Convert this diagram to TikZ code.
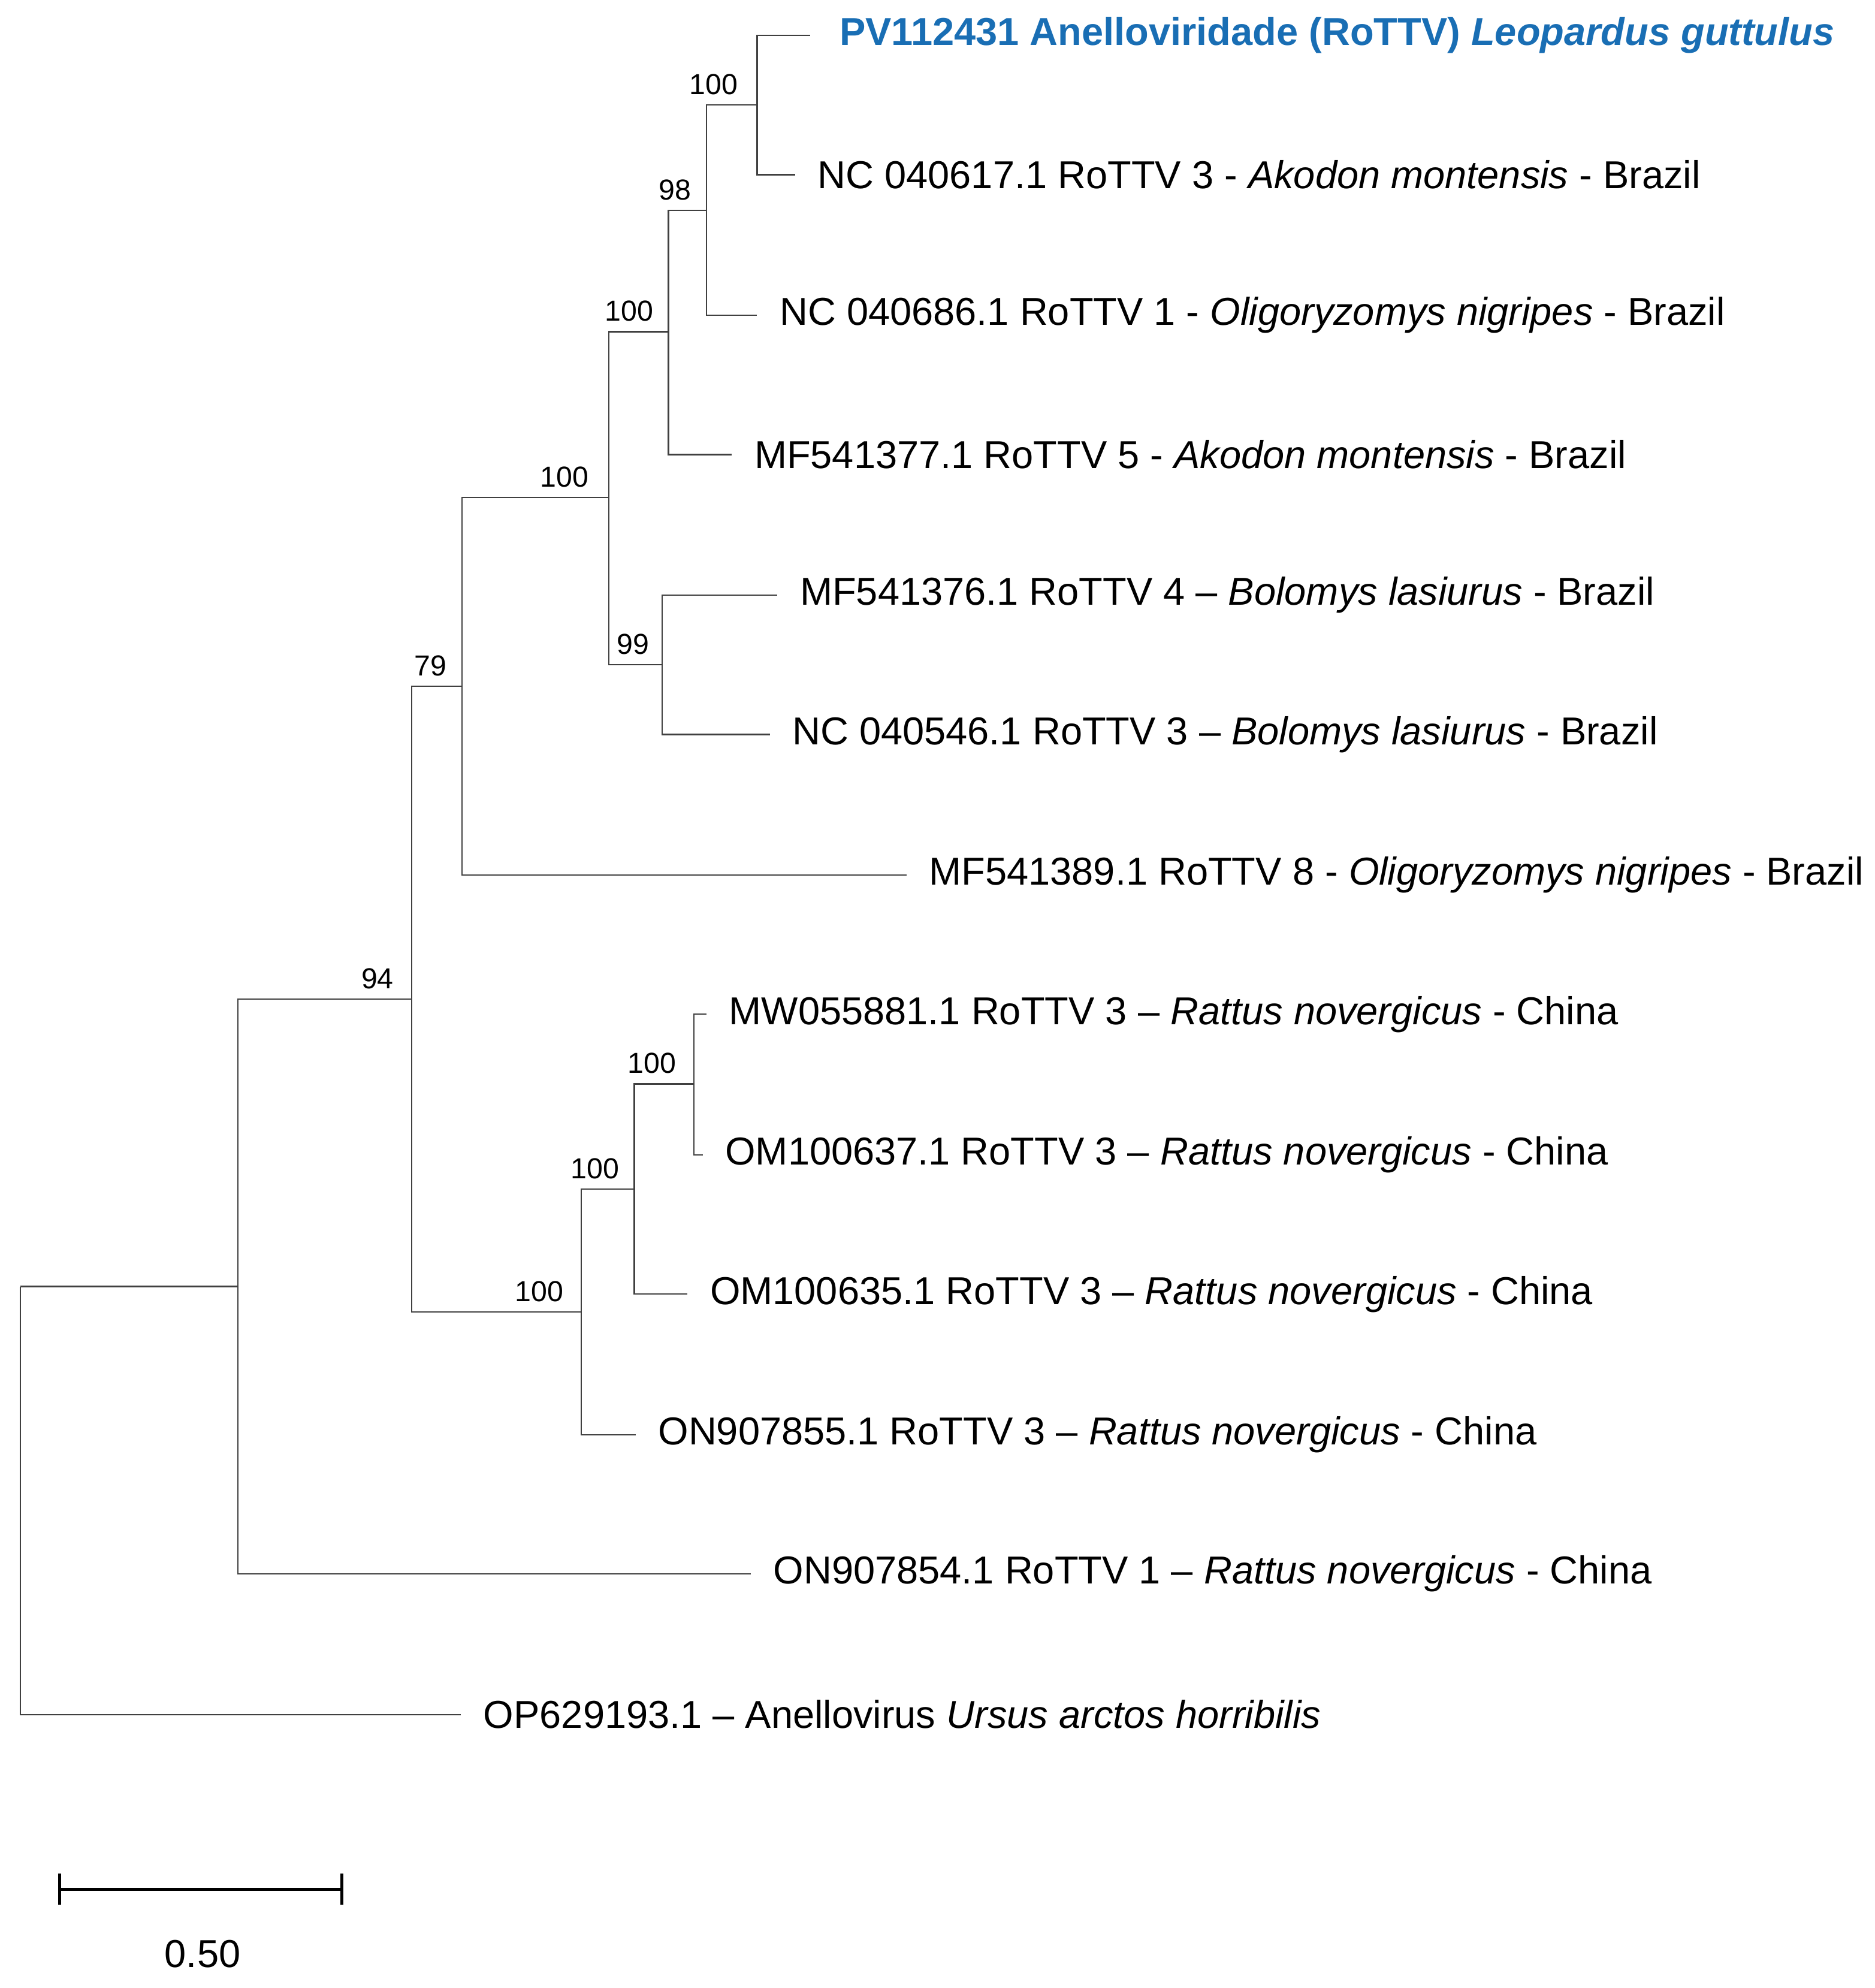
\documentclass[tikz,border=0pt]{standalone}
\usepackage{fontspec}
\setmainfont{Liberation Sans}
\definecolor{tipblue}{RGB}{25,110,180}
\begin{document}
\begin{tikzpicture}[x=0.02cm,y=-0.02cm,
  br/.style={line width=0.6pt,black!75},
  tip/.style={anchor=west,inner sep=0pt,font=\fontsize{17.5}{20}\selectfont},
  bs/.style={anchor=south east,inner sep=1pt,font=\fontsize{13}{15}\selectfont}]
\useasboundingbox (0,0) rectangle (1481,1570);
% internal nodes
\coordinate (r) at (16,1016);
\coordinate (n188) at (188,1016);
\coordinate (n325) at (325,789);
\coordinate (n365) at (365,542);
\coordinate (n481) at (481,393);
\coordinate (n528) at (528,262);
\coordinate (n558) at (558,166);
\coordinate (n598) at (598,83);
\coordinate (n523) at (523,525);
\coordinate (n459) at (459,1036);
\coordinate (n501) at (501,939);
\coordinate (n548) at (548,856);
% tips
\coordinate (t1) at (640,28);
\coordinate (t2) at (628,138);
\coordinate (t3) at (598,249);
\coordinate (t4) at (578,359);
\coordinate (t5) at (614,470);
\coordinate (t6) at (608,580);
\coordinate (t7) at (716,691);
\coordinate (t8) at (558,801);
\coordinate (t9) at (555,912);
\coordinate (t10) at (543,1022);
\coordinate (t11) at (502,1133);
\coordinate (t12) at (593,1243);
\coordinate (t13) at (364,1354);
\newcommand{\elbow}[2]{\draw[br] (#1) |- (#2);}
\elbow{r}{n188}\elbow{r}{t13}
\elbow{n188}{n325}\elbow{n188}{t12}
\elbow{n325}{n365}\elbow{n325}{n459}
\elbow{n365}{n481}\elbow{n365}{t7}
\elbow{n481}{n528}\elbow{n481}{n523}
\elbow{n528}{n558}\elbow{n528}{t4}
\elbow{n558}{n598}\elbow{n558}{t3}
\elbow{n598}{t1}\elbow{n598}{t2}
\elbow{n523}{t5}\elbow{n523}{t6}
\elbow{n459}{n501}\elbow{n459}{t11}
\elbow{n501}{n548}\elbow{n501}{t10}
\elbow{n548}{t8}\elbow{n548}{t9}
% labels
\node[tip,text=tipblue,font=\fontsize{17.5}{20}\selectfont\bfseries] (l1) at ([xshift=13]t1) {PV112431 Anelloviridade (RoTTV) \textit{Leopardus guttulus}};
\node[tip] (l2) at ([xshift=10]t2) {NC 040617.1 RoTTV 3 - \textit{Akodon montensis} - Brazil};
\node[tip] (l3) at ([xshift=10]t3) {NC 040686.1 RoTTV 1 - \textit{Oligoryzomys nigripes} - Brazil};
\node[tip] (l4) at ([xshift=10]t4) {MF541377.1 RoTTV 5 - \textit{Akodon montensis} - Brazil};
\node[tip] (l5) at ([xshift=10]t5) {MF541376.1 RoTTV 4 -- \textit{Bolomys lasiurus} - Brazil};
\node[tip] (l6) at ([xshift=10]t6) {NC 040546.1 RoTTV 3 -- \textit{Bolomys lasiurus} - Brazil};
\node[tip] (l7) at ([xshift=10]t7) {MF541389.1 RoTTV 8 - \textit{Oligoryzomys nigripes} - Brazil};
\node[tip] (l8) at ([xshift=10]t8) {MW055881.1 RoTTV 3 -- \textit{Rattus novergicus} - China};
\node[tip] (l9) at ([xshift=10]t9) {OM100637.1 RoTTV 3 -- \textit{Rattus novergicus} - China};
\node[tip] (l10) at ([xshift=10]t10) {OM100635.1 RoTTV 3 -- \textit{Rattus novergicus} - China};
\node[tip] (l11) at ([xshift=10]t11) {ON907855.1 RoTTV 3 -- \textit{Rattus novergicus} - China};
\node[tip] (l12) at ([xshift=10]t12) {ON907854.1 RoTTV 1 -- \textit{Rattus novergicus} - China};
\node[tip] (l13) at ([xshift=10]t13) {OP629193.1 -- Anellovirus \textit{Ursus arctos horribilis}};
% bootstrap
\node[bs] (b1) at ([shift={(-13,-6)}]n598) {100};
\node[bs] (b2) at ([shift={(-10,-6)}]n558) {98};
\node[bs] (b3) at ([shift={(-10,-6)}]n528) {100};
\node[bs] (b4) at ([shift={(-14,-6)}]n481) {100};
\node[bs] (b5) at ([shift={(-8,-6)}]n523) {99};
\node[bs] (b6) at ([shift={(-10,-6)}]n365) {79};
\node[bs] (b7) at ([shift={(-12,-6)}]n325) {94};
\node[bs] (b8) at ([shift={(-12,-6)}]n548) {100};
\node[bs] (b9) at ([shift={(-10,-6)}]n501) {100};
\node[bs] (b10) at ([shift={(-12,-6)}]n459) {100};
% scale bar
\coordinate (s1) at (47,1492);
\coordinate (s2) at (270,1492);
\draw[line width=1.4pt] (s1) -- (s2);
\draw[line width=1.2pt] ([yshift=-7]s1) -- ([yshift=7]s1) ([yshift=-7]s2) -- ([yshift=7]s2);
\node[font=\fontsize{17.5}{20}\selectfont] (sl) at (160,1543) {0.50};
\end{tikzpicture}
\end{document}
